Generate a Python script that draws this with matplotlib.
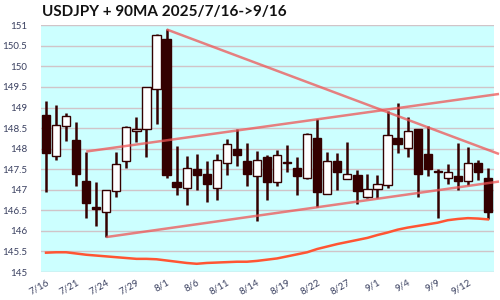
import matplotlib
matplotlib.use("Agg")
import matplotlib.pyplot as plt
import numpy as np

dates = ["7/16","7/17","7/18","7/21","7/22","7/23","7/24","7/25","7/28","7/29",
         "7/30","7/31","8/1","8/4","8/5","8/6","8/7","8/8","8/11","8/12",
         "8/13","8/14","8/15","8/18","8/19","8/20","8/21","8/22","8/25","8/26",
         "8/27","8/28","8/29","9/1","9/2","9/3","9/4","9/5","9/8","9/9",
         "9/10","9/11","9/12","9/15","9/16"]
opens  = [148.82,147.83,148.54,148.21,147.21,146.57,146.45,146.96,147.69,148.42,
          148.47,149.46,150.66,147.20,147.05,147.50,147.38,147.05,147.64,147.99,
          147.70,147.34,147.80,147.18,147.68,147.52,147.29,148.25,146.89,147.70,
          147.27,147.36,146.83,147.01,147.12,148.25,148.02,148.48,147.87,147.45,
          147.28,147.33,147.22,147.65,147.28]
closes = [147.90,148.57,148.79,147.39,146.69,146.53,147.00,147.62,148.52,148.48,
          149.49,150.77,147.36,147.06,147.52,147.37,147.14,147.72,148.11,147.84,
          147.38,147.72,147.20,147.84,147.66,147.34,148.35,146.95,147.69,147.44,
          147.39,146.98,147.01,147.13,148.33,148.12,148.42,147.39,147.51,147.43,
          147.42,147.22,147.65,147.42,146.47]
highs  = [149.16,149.06,148.86,148.65,147.93,147.19,147.00,147.92,148.55,148.77,
          149.50,150.80,150.90,148.06,147.82,147.87,147.70,147.87,148.23,148.49,
          148.14,147.94,147.84,147.97,148.09,147.80,148.37,148.73,147.92,147.89,
          148.15,147.47,147.38,147.36,148.91,149.10,148.76,148.49,148.55,147.50,
          147.62,148.14,148.03,147.72,147.53]
lows   = [146.94,147.72,148.18,147.09,146.32,146.13,145.85,146.83,147.54,148.17,
          147.80,148.61,147.29,146.87,146.63,147.00,146.71,146.74,147.37,147.58,
          147.10,146.23,146.75,147.10,147.44,146.87,147.26,146.58,146.89,147.00,
          147.27,146.66,146.79,146.81,147.05,147.90,147.80,146.83,147.34,146.32,
          147.15,147.00,147.12,147.24,146.29]
ma90   = [145.47,145.48,145.48,145.45,145.42,145.40,145.38,145.36,145.34,145.32,
          145.32,145.31,145.28,145.25,145.22,145.20,145.22,145.23,145.24,145.25,
          145.25,145.27,145.30,145.33,145.38,145.43,145.48,145.56,145.62,145.68,
          145.73,145.78,145.83,145.90,145.96,146.03,146.08,146.12,146.16,146.20,
          146.26,146.29,146.31,146.30,146.28]
# trend lines: (start index, start value, end index, end value)
trend_upper_rise = [4, 147.93, 45.1, 149.33]
trend_lower_rise = [6, 145.85, 45.1, 147.20]
trend_fall       = [12, 150.90, 45.1, 147.87]

title = "USDJPY + 90MA 2025/7/16->9/16"
yticks = [145, 145.5, 146, 146.5, 147, 147.5, 148, 148.5, 149, 149.5, 150, 150.5, 151]
ytick_labels = ["145","145.5","146","146.5","147","147.5","148","148.5","149","149.5","150","150.5","151"]

plt.rcParams['font.family'] = ['Lato', 'DejaVu Sans']

dark = "#330000"
fig = plt.figure(figsize=(5, 3), dpi=100)
ax = fig.add_axes([0.082, 0.0933, 0.906, 0.8224])
ax.set_facecolor("#ccffff")

x = np.arange(len(dates))
o = np.array(opens); c = np.array(closes)
ax.vlines(x, lows, highs, color=dark, lw=1.8, zorder=3)
up = c >= o
bottom = np.minimum(o, c)
height = np.abs(c - o)
ax.bar(x[up], height[up], bottom=bottom[up], width=0.82, color="white",
       edgecolor=dark, linewidth=1.0, zorder=4)
ax.bar(x[~up], height[~up], bottom=bottom[~up], width=0.82, color=dark,
       edgecolor=dark, linewidth=1.0, zorder=4)

ax.plot(x, ma90, color="#ff5533", lw=1.8, zorder=5)
for t in (trend_upper_rise, trend_lower_rise, trend_fall):
    ax.plot([t[0], t[2]], [t[1], t[3]], color="#ee5555", alpha=0.75, lw=1.8,
            zorder=6, clip_on=False, solid_capstyle="butt")

ax.set_xlim(-0.5, 44.6)
ax.set_ylim(145, 151)
ax.set_yticks(yticks)
ax.set_yticklabels(ytick_labels)
ax.set_xticks(x[::3])
ax.set_xticklabels(dates[::3], rotation=30, ha="right", va="top",
                   rotation_mode="anchor")
ax.tick_params(axis="both", length=0, labelsize=7, colors="#3a4060")
ax.tick_params(axis="y", pad=10)
ax.tick_params(axis="x", pad=4)
ax.grid(axis="y", color="#d0c4c8", lw=1.0, zorder=1)
ax.set_axisbelow(True)
for s in ax.spines.values():
    s.set_visible(False)

fig.text(0.084, 0.96, title, fontsize=11, fontweight="bold", ha="left",
         va="center", color="#111111")
fig.savefig("out.png", dpi=100)
